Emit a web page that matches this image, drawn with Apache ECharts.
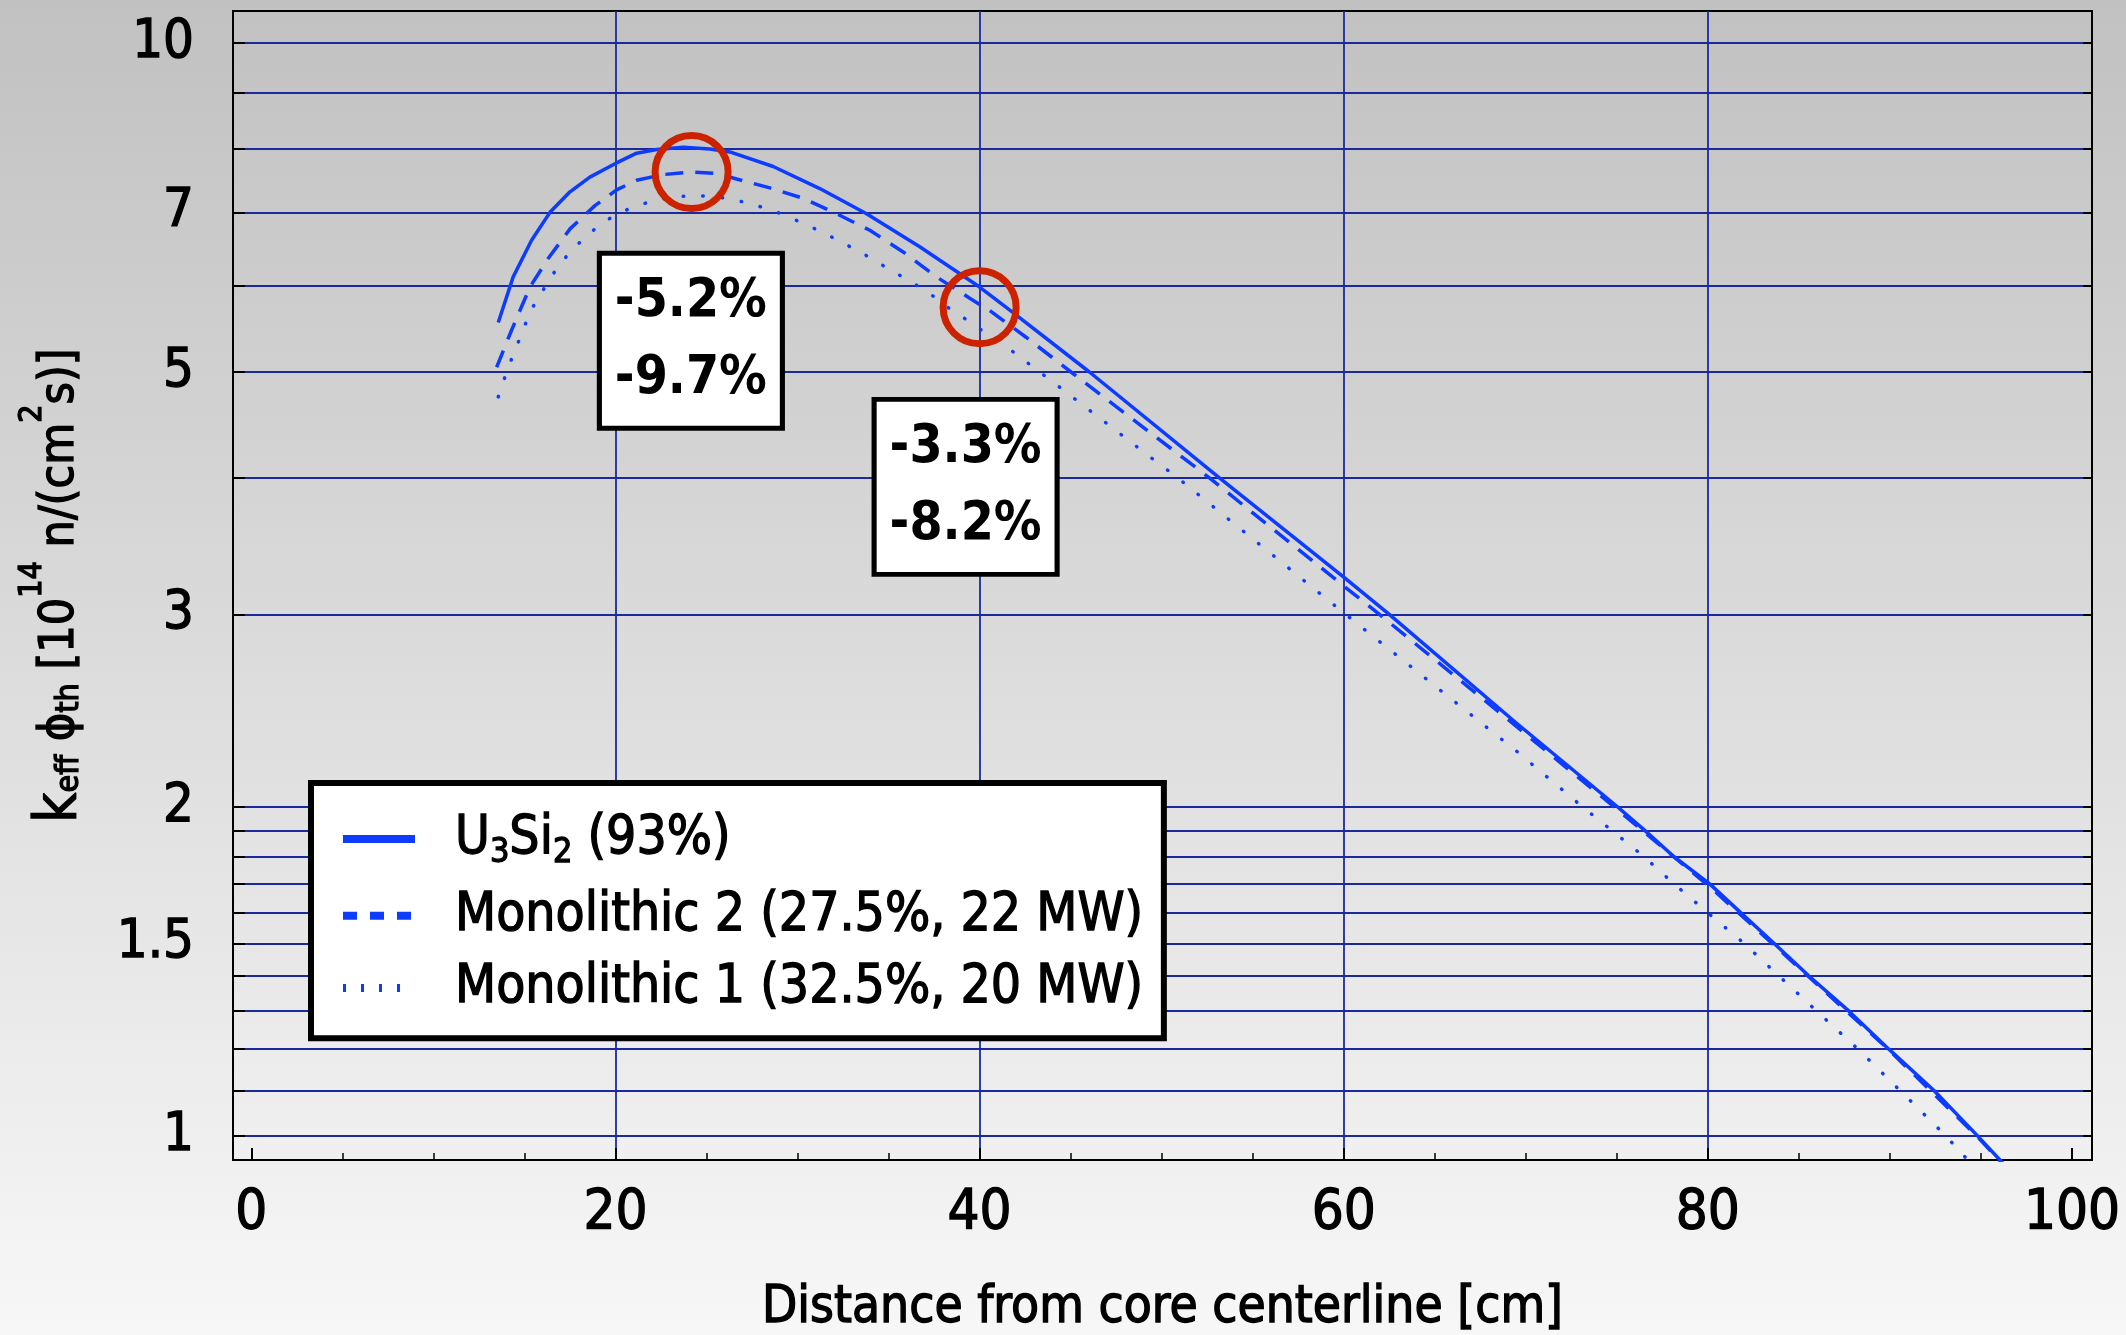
<!DOCTYPE html>
<html>
<head>
<meta charset="utf-8">
<script src="https://cdn.jsdelivr.net/npm/echarts@6/dist/echarts.min.js"></script>
<style>
html,body{margin:0;padding:0;background:#fff;}
#chart{width:2126px;height:1335px;}
</style>
</head>
<body>
<div id="chart"></div>
<script>
// ---------------- data ----------------
const seriesNames = ['U3Si2 (93%)', 'Monolithic 2 (27.5%, 22 MW)', 'Monolithic 1 (32.5%, 20 MW)'];

const u3si2X = [13.56, 14.38, 15.39, 16.40, 17.50, 18.59, 20.00, 21.16, 22.26, 23.72, 25.18, 26.28, 28.66, 31.22, 33.79, 36.71, 40.00, 41.82, 46.03, 53.17, 60.05, 62.50, 69.43, 75.03, 76.58, 78.14, 80.10, 81.80, 83.63, 85.55, 87.75, 89.94, 92.42, 94.80, 96.30];
const u3si2Y = [5.55, 6.11, 6.60, 7.00, 7.31, 7.54, 7.76, 7.93, 7.99, 8.03, 8.00, 7.95, 7.71, 7.36, 6.98, 6.51, 5.98, 5.67, 5.00, 4.00, 3.24, 3.00, 2.39, 2.00, 1.90, 1.80, 1.70, 1.60, 1.50, 1.40, 1.30, 1.20, 1.10, 1.00, 0.94];

const mono2X = [13.47, 14.29, 15.30, 16.30, 17.50, 18.87, 20.06, 21.16, 22.62, 24.09, 25.55, 26.65, 28.48, 30.31, 32.14, 33.97, 35.80, 37.63, 39.46, 40.56, 42.55, 45.02, 52.62, 60.05, 61.96, 68.55, 75.00, 80.10, 85.50, 89.90, 94.75, 96.25];
const mono2Y = [5.05, 5.46, 5.98, 6.35, 6.76, 7.10, 7.34, 7.49, 7.58, 7.62, 7.60, 7.51, 7.37, 7.21, 6.98, 6.74, 6.44, 6.11, 5.84, 5.69, 5.38, 5.00, 4.00, 3.18, 3.00, 2.44, 1.99, 1.69, 1.40, 1.20, 1.00, 0.94];

const mono1X = [13.56, 13.93, 14.29, 14.71, 15.12, 15.57, 16.18, 16.77, 17.44, 18.23, 19.05, 19.97, 20.97, 22.04, 23.11, 24.21, 25.31, 26.41, 27.47, 28.53, 29.54, 30.55, 31.55, 32.50, 33.51, 34.46, 35.40, 36.35, 37.26, 38.18, 39.09, 39.97, 41.82, 44.48, 49.69, 50.88, 60.10, 69.54, 73.11, 74.76, 76.50, 78.14, 79.99, 81.98, 83.91, 85.98, 88.25, 90.55, 93.06, 94.40];
const mono1Y = [4.745, 4.95, 5.14, 5.35, 5.57, 5.78, 6.00, 6.22, 6.42, 6.62, 6.80, 6.96, 7.08, 7.17, 7.23, 7.25, 7.24, 7.20, 7.12, 7.04, 6.93, 6.81, 6.69, 6.56, 6.43, 6.29, 6.16, 6.03, 5.90, 5.74, 5.61, 5.48, 5.22, 4.83, 4.14, 4.00, 3.00, 2.245, 2.00, 1.90, 1.80, 1.70, 1.60, 1.50, 1.40, 1.30, 1.20, 1.10, 1.00, 0.945];

const xTickLabels = [0, 20, 40, 60, 80, 100];
const xMinorTicks = [5, 10, 15, 25, 30, 35, 45, 50, 55, 65, 70, 75, 85, 90, 95];
const xGridValues = [20, 40, 60, 80];
const yTickLabels = [1, 1.5, 2, 3, 5, 7, 10];
const yTicks = [1, 1.1, 1.2, 1.3, 1.4, 1.5, 1.6, 1.7, 1.8, 1.9, 2, 3, 4, 5, 6, 7, 8, 9, 10];

const annotationTexts = ['-5.2%\n-9.7%', '-3.3%\n-8.2%'];
const xAxisTitle = 'Distance from core centerline [cm]';

// ---------------- styling ----------------
const FONT = "'DejaVu Sans Condensed', 'DejaVu Sans', sans-serif";
const BLUE = '#0d3cff';
const GRID = '#1a2a9c';
const THICK = {textBorderColor: '#000', textBorderWidth: 1.3};

function zip(xs, ys) { return xs.map((x, i) => [x, ys[i]]); }

const chart = echarts.init(document.getElementById('chart'), null, {renderer: 'canvas'});

const lineDefs = [
  {x: u3si2X, y: u3si2Y, type: 'solid', cap: 'butt'},
  {x: mono2X, y: mono2Y, type: [18, 12], cap: 'butt'},
  {x: mono1X, y: mono1Y, type: [0.5, 19], cap: 'round'}
];
const legendDash = ['solid', [14, 13], [3, 15]];

const series = lineDefs.map((d, i) => ({
  name: seriesNames[i],
  type: 'line',
  data: zip(d.x, d.y),
  symbol: 'none',
  showSymbol: false,
  smooth: false,
  clip: true,
  z: 3,
  lineStyle: {color: BLUE, width: 3.5, type: d.type, cap: d.cap},
  itemStyle: {color: BLUE},
  emphasis: {disabled: true}
}));

const boxLabel = {show: true, position: 'inside', fontSize: 53, lineHeight: 77,
                  fontWeight: 'bold', color: '#000', fontFamily: FONT};

series[0].markPoint = {
  silent: true,
  animation: false,
  z: 6,
  data: [
    {coord: [24.14, 5.34], symbol: 'rect', symbolSize: [183, 175],
     itemStyle: {color: '#ffffff', borderColor: '#000', borderWidth: 5},
     label: Object.assign({formatter: annotationTexts[0]}, boxLabel)},
    {coord: [39.23, 3.925], symbol: 'rect', symbolSize: [183, 175],
     itemStyle: {color: '#ffffff', borderColor: '#000', borderWidth: 5},
     label: Object.assign({formatter: annotationTexts[1]}, boxLabel)},
    {coord: [24.18, 7.62], symbol: 'circle', symbolSize: 73,
     itemStyle: {color: 'rgba(0,0,0,0)', borderColor: '#cc2200', borderWidth: 7},
     label: {show: false}},
    {coord: [40.0, 5.73], symbol: 'circle', symbolSize: 73,
     itemStyle: {color: 'rgba(0,0,0,0)', borderColor: '#cc2200', borderWidth: 7},
     label: {show: false}}
  ]
};

const xCommon = {type: 'value', min: -1.01, max: 101.1, position: 'bottom', gridIndex: 0};
const yCommon = {type: 'log', logBase: 10, min: 0.95, max: 10.7, gridIndex: 0};

const option = {
  animation: false,
  backgroundColor: new echarts.graphic.LinearGradient(0, 0, 0, 1, [
    {offset: 0, color: '#c1c1c1'},
    {offset: 1, color: '#f7f7f7'}
  ]),
  grid: {left: 233, right: 34, top: 11, bottom: 175, show: true, borderColor: '#000', borderWidth: 2,
         backgroundColor: 'transparent', containLabel: false, outerBoundsMode: 'none'},
  legend: {
    orient: 'vertical',
    left: 311,
    top: 783,
    padding: [25, 20, 23, 28],
    backgroundColor: '#ffffff',
    borderColor: '#000',
    borderWidth: 6,
    itemWidth: 72,
    itemHeight: 66,
    itemGap: 18,
    selectedMode: false,
    itemStyle: {opacity: 0},
    data: seriesNames.map((n, i) => ({name: n, lineStyle: {width: 8, type: legendDash[i], color: BLUE, cap: 'butt'}})),
    formatter: function (name) {
      if (name.indexOf('U3Si2') === 0) {
        return '{t|U}{s|3}{t|Si}{s|2}{t|' + name.slice(5) + '}';
      }
      return '{t|' + name + '}';
    },
    textStyle: Object.assign({
      fontFamily: FONT, fontSize: 53, color: '#000',
      padding: [0, 0, 0, 35],
      rich: {
        t: Object.assign({fontFamily: FONT, fontSize: 53, color: '#000', lineHeight: 66}, THICK),
        s: Object.assign({fontFamily: FONT, fontSize: 34, color: '#000', lineHeight: 34, padding: [28, 0, 0, 0]}, THICK)
      }
    }, THICK)
  },
  xAxis: [
    Object.assign({}, xCommon, {
      axisLine: {show: true, onZero: false, lineStyle: {color: '#000', width: 2}},
      axisTick: {show: true, inside: true, length: 12, customValues: xTickLabels, lineStyle: {color: '#000', width: 2}},
      axisLabel: Object.assign({show: true, customValues: xTickLabels, fontSize: 56, margin: 25, color: '#000', fontFamily: FONT}, THICK),
      splitLine: {show: false},
      name: xAxisTitle,
      nameLocation: 'middle',
      nameGap: 123,
      nameTextStyle: Object.assign({fontSize: 51, color: '#000', fontFamily: FONT}, THICK)
    }),
    Object.assign({}, xCommon, {
      axisLine: {show: false, onZero: false},
      axisTick: {show: true, inside: true, length: 7, customValues: xMinorTicks, lineStyle: {color: '#000', width: 1.5}},
      axisLabel: {show: false},
      splitLine: {show: false}
    }),
    Object.assign({}, xCommon, {
      axisLine: {show: false, onZero: false},
      axisTick: {show: false, customValues: xGridValues},
      axisLabel: {show: false},
      splitLine: {show: true, lineStyle: {color: GRID, width: 1.8}}
    })
  ],
  yAxis: [
    Object.assign({}, yCommon, {
      position: 'left',
      axisLine: {show: true, onZero: false, lineStyle: {color: '#000', width: 2}},
      axisTick: {show: true, inside: true, length: 12, customValues: yTicks, lineStyle: {color: '#000', width: 2}},
      axisLabel: Object.assign({show: true, customValues: yTickLabels, fontSize: 54, margin: 39, color: '#000', fontFamily: FONT,
                  formatter: function (v) { return String(Math.round(v * 10) / 10); }}, THICK),
      splitLine: {show: true, lineStyle: {color: GRID, width: 1.8}},
      minorTick: {show: false},
      minorSplitLine: {show: false},
      name: '{k|k}{sub|eff}{t| ϕ}{sub|th}{t| [10}{sup|14}{t| n/(cm}{sup|2}{t|s)]}',
      nameLocation: 'middle',
      nameRotate: 90,
      nameGap: 128,
      nameTextStyle: Object.assign({
        fontFamily: FONT, fontSize: 48, color: '#000',
        rich: {
          k: Object.assign({fontFamily: FONT, fontSize: 58, color: '#000', lineHeight: 60}, THICK),
          t: Object.assign({fontFamily: FONT, fontSize: 48, color: '#000', lineHeight: 60}, THICK),
          sub: Object.assign({fontFamily: FONT, fontSize: 32, color: '#000', lineHeight: 32, padding: [17, 0, 0, 0]}, THICK),
          sup: Object.assign({fontFamily: FONT, fontSize: 32, color: '#000', lineHeight: 32, padding: [0, 0, 57, 0]}, THICK)
        }
      }, THICK)
    }),
    Object.assign({}, yCommon, {
      position: 'right',
      axisLine: {show: true, onZero: false, lineStyle: {color: '#000', width: 2}},
      axisTick: {show: true, inside: true, length: 9, customValues: yTicks, lineStyle: {color: '#000', width: 2}},
      axisLabel: {show: false},
      splitLine: {show: false},
      minorTick: {show: false}
    })
  ],
  series: series
};

chart.setOption(option);
</script>
</body>
</html>
